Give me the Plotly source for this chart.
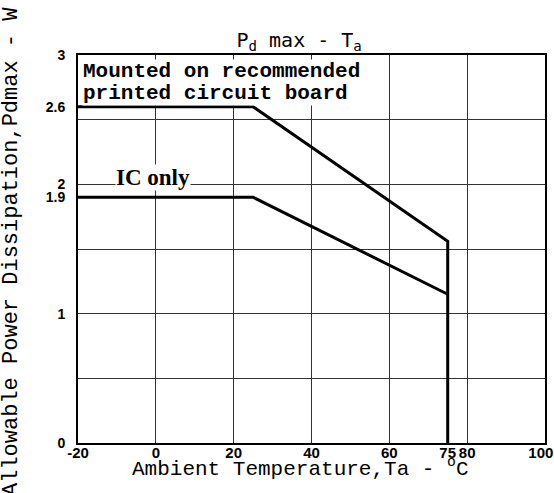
import plotly.graph_objects as go

# Data
temp_board = [-20, 25, 75, 75]
pd_board = [2.6, 2.6, 1.56, 0]
temp_ic = [-20, 25, 75]
pd_ic = [1.9, 1.9, 1.15]

x_ticks = [-20, 0, 20, 40, 60, 75, 80, 100]
x_ticklabels = ["-20", "0", "20", "40", "60", "75", "80", "100\u00a0\u00a0"]
x_grid = [0, 20, 40, 60, 80]
y_ticks = [0, 1, 1.9, 2, 2.6, 3]
y_ticklabels = ["0", "1", "1.9", "2", "2.6", "3"]
y_grid = [0.5, 1, 1.5, 2, 2.5]

mono = "Liberation Mono"
fig = go.Figure()
fig.add_trace(go.Scatter(x=temp_board, y=pd_board, mode="lines",
                         line=dict(color="black", width=3), showlegend=False))
fig.add_trace(go.Scatter(x=temp_ic, y=pd_ic, mode="lines",
                         line=dict(color="black", width=3), showlegend=False))

tick_font_family = "Liberation Sans Narrow, Liberation Sans"
fig.update_layout(
    width=554, height=493,
    margin=dict(l=78, r=9, t=55, b=50),
    paper_bgcolor="white", plot_bgcolor="white",
    title=dict(text="P<sub>d</sub> max - T<sub>a</sub>", x=0.54, xanchor="center",
               y=1 - 40 / 493, yanchor="middle",
               font=dict(family="DejaVu Sans Mono", size=20, color="black")),
    xaxis=dict(range=[-20, 100], tickvals=x_ticks, ticktext=x_ticklabels,
               showgrid=False, zeroline=False, showline=True, mirror=True,
               linecolor="black", linewidth=2, ticks="", ticklabelstandoff=-5,
               tickangle=0, ticklabeloverflow="allow", automargin=False,
               tickfont=dict(family=tick_font_family, size=15, color="black", weight="bold"),
               minor=dict(tickvals=x_grid, showgrid=True, gridcolor="#333", gridwidth=1, ticks="")),
    yaxis=dict(range=[0, 3], tickvals=y_ticks, ticktext=y_ticklabels,
               showgrid=False, zeroline=False, showline=True, mirror=True,
               linecolor="black", linewidth=2, ticks="", ticklabelstandoff=8,
               automargin=False,
               tickfont=dict(family=tick_font_family, size=14, color="black", weight="bold"),
               minor=dict(tickvals=y_grid, showgrid=True, gridcolor="#333", gridwidth=1, ticks="")),
)

fig.add_annotation(text="Mounted on recommended",
                   xref="paper", yref="paper", x=0.0086, y=(443 - 72) / 388,
                   xanchor="left", yanchor="middle", align="left", showarrow=False,
                   bgcolor="white", borderpad=0,
                   font=dict(family=mono, size=21, color="black", weight="bold"))
fig.add_annotation(text="printed circuit board",
                   xref="paper", yref="paper", x=0.0086, y=(443 - 93) / 388,
                   xanchor="left", yanchor="middle", align="left", showarrow=False,
                   bgcolor="white", borderpad=0,
                   font=dict(family=mono, size=21, color="black", weight="bold"))
fig.add_annotation(text="IC only", xref="paper", yref="paper",
                   x=(153 - 78) / 467, y=(443 - 177) / 388, xanchor="center", yanchor="middle",
                   showarrow=False, bgcolor="white", borderpad=0,
                   font=dict(family="Liberation Serif", size=23, color="black", weight="bold"))
fig.add_annotation(text="Ambient Temperature,Ta - <sup>o</sup>C", xref="paper", yref="paper",
                   x=(300 - 78) / 467, y=(443 - 467) / 388, xanchor="center", yanchor="middle",
                   showarrow=False,
                   font=dict(family=mono, size=21, color="black"))
fig.add_annotation(text="Allowable Power Dissipation,Pdmax - W", xref="paper", yref="paper",
                   x=(11 - 78) / 467, y=(443 - 252) / 388, xanchor="center", yanchor="middle",
                   showarrow=False, textangle=-90,
                   font=dict(family=mono, size=22, color="black"))

fig.write_html("out.html", config={"displayModeBar": False},
               post_script="document.body.style.margin='0';")
